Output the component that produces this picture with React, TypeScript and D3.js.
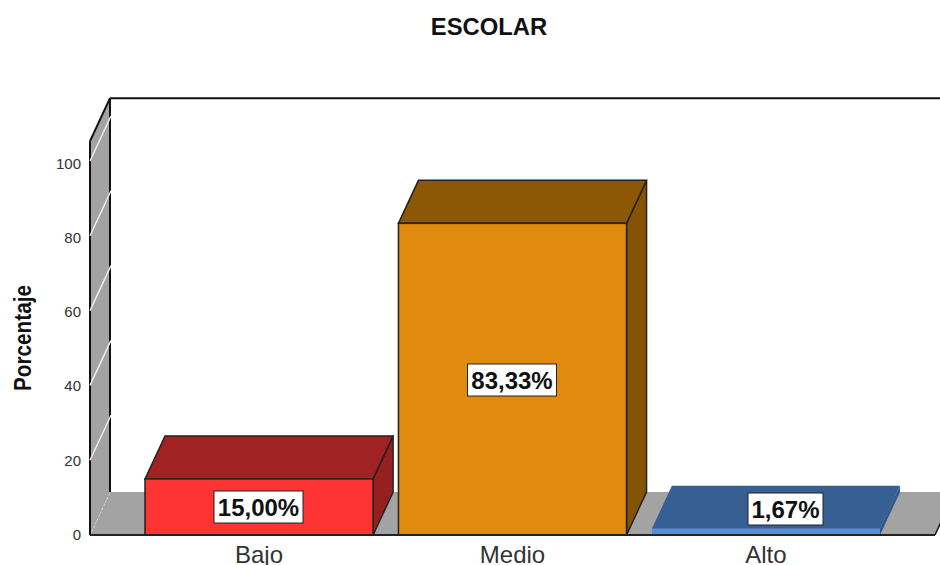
import React from "react";
import * as d3 from "d3";

const categories = ["Bajo", "Medio", "Alto"];
const values = [15.0, 83.33, 1.67];
const valueLabels = ["15,00%", "83,33%", "1,67%"];
const frontColors = ["#fe3333", "#e08a0e", "#4f8fe0"];
const topColors = ["#a02222", "#8c5805", "#365f94"];
const sideColors = ["#962020", "#855305", "#30578a"];
const yTicks = [0, 20, 40, 60, 80, 100];
const title = "ESCOLAR";
const yTitle = "Porcentaje";

const W = 940, H = 565;
const DX = 20, DY = 43;
const FONT = "'Liberation Sans', Arial, sans-serif";

const y = d3.scaleLinear().domain([0, 100]).range([535, 161]);
const yLabel = d3.scaleLinear().domain([0, 100]).range([540, 168.5]);
const x = d3.scaleBand<string>().domain(categories).range([90, 935]).paddingInner(0.1).paddingOuter(0.217);
const wallTop = y(105.3);
const poly = (pts: number[][]) => d3.line()(pts as [number, number][]) + "Z";

function Label({ cx, cy, text }: { cx: number; cy: number; text: string }) {
  const w = text.length > 5 ? 89 : 75;
  return (
    <g>
      <rect x={cx - w / 2} y={cy - 16} width={w} height={32} fill="#fff" stroke="#222" strokeWidth={1} />
      <text x={cx} y={cy + 8.5} textAnchor="middle" fontFamily={FONT} fontWeight="bold" fontSize={24} fill="#111">{text}</text>
    </g>
  );
}

export default function App() {
  const x0 = 90, x1 = 935, y0 = y(0);
  return (
    <svg width={W} height={H} viewBox={`0 0 ${W} ${H}`} style={{ position: "absolute", left: 0, top: 0, background: "#fff" }}>
      <text x={489} y={35} textAnchor="middle" fontFamily={FONT} fontWeight="bold" fontSize={23.8} fill="#111">{title}</text>

      {/* floor */}
      <path d={poly([[x0, y0], [x1, y0], [x1 + DX, y0 - DY], [x0 + DX, y0 - DY]])} fill="#a3a3a3" />
      <line x1={x1} y1={y0} x2={x1 + DX} y2={y0 - DY} stroke="#111" strokeWidth={1.5} />
      <line x1={x0} y1={y0} x2={x0 + DX} y2={y0 - DY} stroke="#eee" strokeWidth={1.2} strokeDasharray="2 2" />

      {/* side wall */}
      <path d={poly([[x0, y0], [x0, wallTop], [x0 + DX, wallTop - DY], [x0 + DX, y0 - DY]])} fill="#a3a3a3" />
      <line x1={x0} y1={y0} x2={x0} y2={wallTop} stroke="#111" strokeWidth={2} />
      <line x1={x0 + DX} y1={y0 - DY} x2={x0 + DX} y2={wallTop - DY} stroke="#111" strokeWidth={2} />
      <line x1={x0} y1={wallTop} x2={x0 + DX} y2={wallTop - DY} stroke="#111" strokeWidth={2} />
      <line x1={x0 + DX} y1={wallTop - DY} x2={W} y2={wallTop - DY} stroke="#111" strokeWidth={2} />
      {yTicks.filter(t => t > 0).map(t => (
        <line key={t} x1={x0} y1={y(t)} x2={x0 + DX + 1} y2={y(t) - DY - 2} stroke="#f2f2f2" strokeWidth={1.4} />
      ))}

      {/* bars */}
      {categories.map((c, i) => {
        const l = x(c)!, r = l + x.bandwidth(), t = y(values[i]);
        const edge = i === 2 ? "none" : "#222";
        return (
          <g key={c}>
            <path d={poly([[r, y0], [r, t], [r + DX, t - DY], [r + DX, y0 - DY]])} fill={sideColors[i]} stroke={edge} strokeWidth={1.5} />
            <path d={poly([[l, t], [r, t], [r + DX, t - DY], [l + DX, t - DY]])} fill={topColors[i]} stroke={edge} strokeWidth={1.5} />
            <rect x={l} y={t} width={r - l} height={y0 - t} fill={frontColors[i]} stroke={edge} strokeWidth={1.5} />
          </g>
        );
      })}

      {/* baseline */}
      <line x1={x0} y1={y0} x2={x1} y2={y0} stroke="#222" strokeWidth={2} />

      {/* y ticks */}
      {yTicks.map(t => (
        <text key={t} x={81} y={yLabel(t)} textAnchor="end" fontFamily={FONT} fontSize={15} fill="#333">{t}</text>
      ))}
      <text transform="translate(31,338) rotate(-90)" textAnchor="middle" fontFamily={FONT} fontWeight="bold" fontSize={24} fill="#111" textLength={106} lengthAdjust="spacingAndGlyphs">{yTitle}</text>

      {/* x labels */}
      {categories.map(c => (
        <text key={c} x={x(c)! + x.bandwidth() / 2} y={562.5} textAnchor="middle" fontFamily={FONT} fontSize={24} fill="#333">{c}</text>
      ))}

      {/* value labels */}
      <Label cx={258.5} cy={507} text={valueLabels[0]} />
      <Label cx={512} cy={380} text={valueLabels[1]} />
      <Label cx={785.5} cy={509} text={valueLabels[2]} />
    </svg>
  );
}
